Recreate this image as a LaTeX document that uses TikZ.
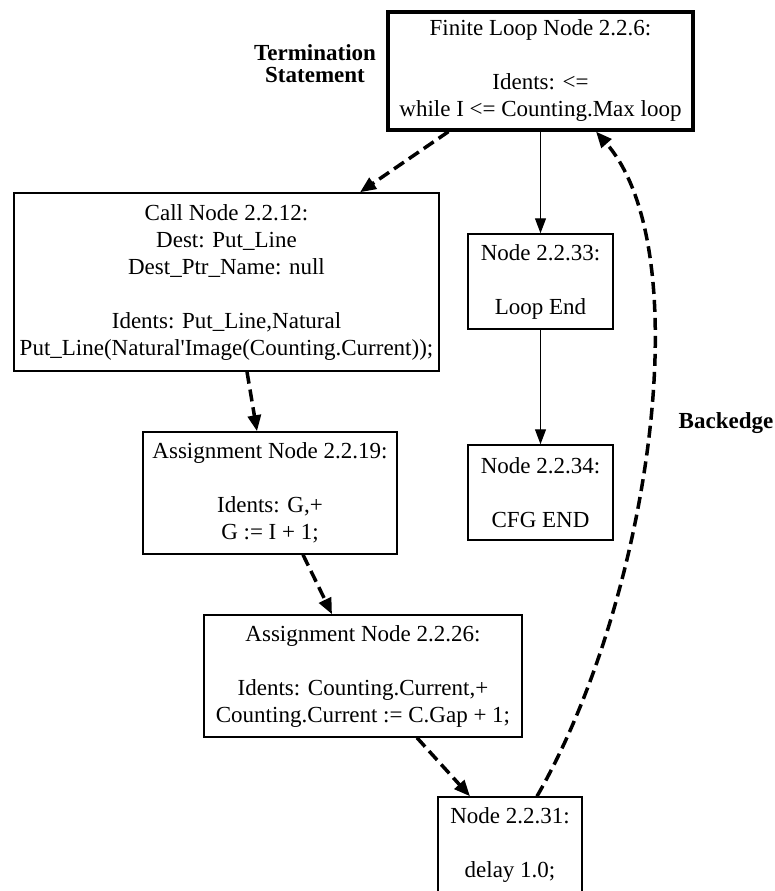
\documentclass[tikz,border=0pt]{standalone}
\usepackage{fontspec}
\setmainfont{Liberation Serif}
\usetikzlibrary{arrows.meta}
\begin{document}
\begin{tikzpicture}[x=1pt,y=-1pt,
  every node/.style={font=\fontsize{23}{27}\selectfont},
  box/.style={draw, line width=1.5pt, rectangle, align=center, inner sep=0pt},
  loopbox/.style={box, line width=3.2pt},
  flow/.style={draw, line width=1.2pt, -{Triangle[length=15pt,width=11pt]}},
  weak/.style={draw, line width=3.5pt, dash pattern=on 12pt off 6pt, -{Triangle[length=16pt,width=13pt]}},
  tag/.style={font=\fontsize{23}{22}\selectfont\bfseries, align=center}
]
\fill[white] (0,0) rectangle (774,891);
\useasboundingbox (0,0) rectangle (774,891);

% control-flow nodes
\node[loopbox, minimum width=305pt, minimum height=118pt] (fl) at (540.5,71)
  {Finite Loop Node 2.2.6:\\[27pt]Idents: <=\\while I <= Counting.Max loop};
\node[box, minimum width=425pt, minimum height=178pt] (call) at (226.5,282)
  {Call Node 2.2.12:\\Dest: Put\_Line\\Dest\_Ptr\_Name: null\\[27pt]Idents: Put\_Line,Natural\\Put\_Line(Natural\textquotesingle Image(Counting.Current));};
\node[box, minimum width=145pt, minimum height=95pt] (n33) at (540.5,281.5)
  {Node 2.2.33:\\[27pt]Loop End};
\node[box, minimum width=145pt, minimum height=95pt] (n34) at (540.5,492.5)
  {Node 2.2.34:\\[27pt]CFG END};
\node[box, minimum width=254pt, minimum height=122pt] (n19) at (270,493)
  {Assignment Node 2.2.19:\\[27pt]Idents: G,+\\G := I + 1;};
\node[box, minimum width=318pt, minimum height=122pt] (n26) at (363,676)
  {Assignment Node 2.2.26:\\[27pt]Idents: Counting.Current,+\\Counting.Current := C.Gap + 1;};
\node[box, minimum width=144pt, minimum height=95pt] (n31) at (510,844.5)
  {Node 2.2.31:\\[27pt]delay 1.0;};

% annotations
\node[tag] (term) at (315,64) {Termination\\Statement};
\node[tag] (back) at (726,423) {Backedge};

% edges
\draw[weak] ([xshift=-92pt]fl.south) -- ([xshift=133.5pt]call.north);
\draw[flow] (fl.south) -- (n33.north);
\draw[flow] (n33.south) -- (n34.north);
\draw[weak] ([xshift=20.5pt]call.south) -- ([xshift=-13pt]n19.north);
\draw[weak] ([xshift=33pt]n19.south) -- ([xshift=-31pt]n26.north);
\draw[weak] ([xshift=54pt]n26.south) -- ([xshift=-40pt]n31.north);
\draw[weak] ([xshift=27pt]n31.north) .. controls (650,600) and (700,250) .. ([xshift=55.5pt]fl.south);
\end{tikzpicture}
\end{document}
